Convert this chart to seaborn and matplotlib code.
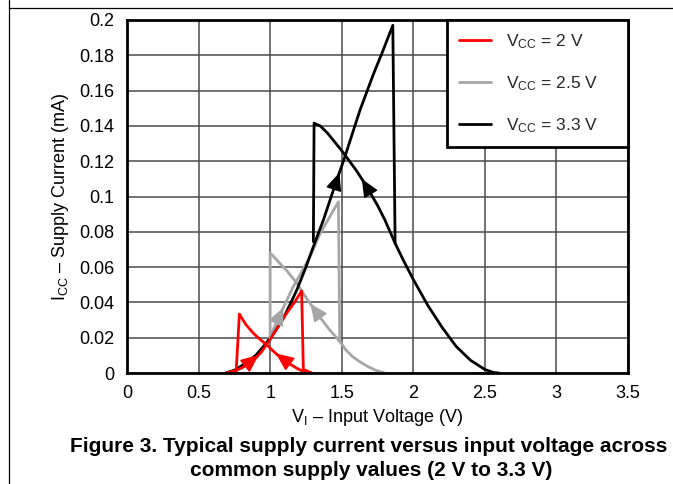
import numpy as np
import pandas as pd
import matplotlib
matplotlib.use("Agg")
import matplotlib.pyplot as plt
import seaborn as sns
from matplotlib.lines import Line2D

# ---------------- data ----------------
series_labels = [r"V$_{\mathrm{CC}}$ = 2 V", r"V$_{\mathrm{CC}}$ = 2.5 V", r"V$_{\mathrm{CC}}$ = 3.3 V"]

# Vcc = 2 V
red_fwd_v = [0.69, 0.73, 0.76, 0.80, 0.836, 0.87, 0.906, 0.94, 0.97, 1.0, 1.05, 1.116, 1.17, 1.22, 1.232, 1.29]
red_fwd_i = [0.0, 0.0007, 0.0015, 0.0028, 0.0045, 0.0065, 0.009, 0.012, 0.0155, 0.019, 0.0255, 0.034, 0.040, 0.0465, 0.002, 0.0]
red_rev_v = [1.29, 1.26, 1.22, 1.186, 1.13, 1.069, 1.02, 0.976, 0.93, 0.883, 0.83, 0.785, 0.762]
red_rev_i = [0.0, 0.0003, 0.0013, 0.0027, 0.0055, 0.009, 0.0125, 0.016, 0.019, 0.0225, 0.0275, 0.0334, 0.0]

# Vcc = 2.5 V
gray_fwd_v = [0.69, 0.75, 0.8, 0.85, 0.9, 0.976, 1.03, 1.08, 1.162, 1.232, 1.279, 1.349, 1.42, 1.477,
              1.486, 1.53, 1.58, 1.63, 1.68, 1.73, 1.77, 1.8]
gray_fwd_i = [0.0, 0.0015, 0.004, 0.0068, 0.010, 0.017, 0.026, 0.035, 0.049, 0.059, 0.066, 0.079, 0.089, 0.097,
              0.018, 0.013, 0.009, 0.0062, 0.0038, 0.0018, 0.0007, 0.0]
gray_rev_v = [1.486, 1.42, 1.325, 1.232, 1.186, 1.116, 1.069, 1.03, 1.0, 1.0]
gray_rev_i = [0.018, 0.024, 0.034, 0.045, 0.051, 0.058, 0.062, 0.0655, 0.068, 0.019]

# Vcc = 3.3 V
black_fwd_v = [0.69, 0.75, 0.8, 0.85, 0.9, 0.964, 1.03, 1.092, 1.14, 1.186, 1.25, 1.302, 1.372, 1.442, 1.52,
               1.628, 1.72, 1.79, 1.857, 1.873, 1.93, 2.0, 2.1, 2.2, 2.3, 2.4, 2.5, 2.56, 2.6]
black_fwd_i = [0.0, 0.0015, 0.004, 0.0068, 0.010, 0.016, 0.023, 0.031, 0.039, 0.047, 0.060, 0.0716, 0.0867, 0.1037, 0.122,
               0.149, 0.169, 0.183, 0.197, 0.0735, 0.064, 0.053, 0.0385, 0.026, 0.015, 0.0072, 0.002, 0.0003, 0.0]
black_rev_v = [1.873, 1.838, 1.8, 1.75, 1.7, 1.64, 1.6, 1.55, 1.5, 1.45, 1.4, 1.35, 1.32, 1.307, 1.302]
black_rev_i = [0.0735, 0.080, 0.087, 0.095, 0.102, 0.110, 0.115, 0.1205, 0.126, 0.131, 0.136, 0.140, 0.141, 0.1416, 0.0744]

# arrow tip positions (input voltage) on forward / reverse sweeps
red_arrow_v = [0.92, 1.04]
gray_arrow_v = [1.093, 1.28]
black_arrow_v = [1.484, 1.64]

x_ticks = [0, 0.5, 1, 1.5, 2, 2.5, 3, 3.5]
x_ticklabels = ["0", "0.5", "1", "1.5", "2", "2.5", "3", "3.5"]
y_ticks = [0, 0.02, 0.04, 0.06, 0.08, 0.1, 0.12, 0.14, 0.16, 0.18, 0.2]
y_ticklabels = ["0", "0.02", "0.04", "0.06", "0.08", "0.1", "0.12", "0.14", "0.16", "0.18", "0.2"]

x_label = r"V$_{\mathrm{I}}$ – Input Voltage (V)"
y_label = r"I$_{\mathrm{CC}}$ – Supply Current (mA)"
caption = ["Figure 3. Typical supply current versus input voltage across",
           "common supply values (2 V to 3.3 V)"]

colors = {series_labels[0]: "#ff0000", series_labels[1]: "#a6a6a6", series_labels[2]: "#000000"}

# ---------------- build table ----------------
branches = [
    (series_labels[0], "fwd", red_fwd_v, red_fwd_i),
    (series_labels[0], "rev", red_rev_v, red_rev_i),
    (series_labels[1], "fwd", gray_fwd_v, gray_fwd_i),
    (series_labels[1], "rev", gray_rev_v, gray_rev_i),
    (series_labels[2], "fwd", black_fwd_v, black_fwd_i),
    (series_labels[2], "rev", black_rev_v, black_rev_i),
]
rows = []
for s, b, vv, ii in branches:
    for k, (v, i) in enumerate(zip(vv, ii)):
        rows.append({"series": s, "unit": b, "V": v, "I": i, "order": k})
df = pd.DataFrame(rows)

# ---------------- style ----------------
sns.set_theme(style="white")
plt.rcParams["font.family"] = ["Liberation Sans", "DejaVu Sans"]
plt.rcParams["mathtext.fontset"] = "custom"
plt.rcParams["mathtext.rm"] = "Liberation Sans"
plt.rcParams["mathtext.it"] = "Liberation Sans:italic"
plt.rcParams["mathtext.bf"] = "Liberation Sans:bold"

fig = plt.figure(figsize=(6.73, 4.84), dpi=100)
ax = fig.add_axes([127 / 673, 1 - 373 / 484, 501 / 673, 353 / 484])

draw_order = [series_labels[1], series_labels[2], series_labels[0]]
sns.lineplot(data=df, x="V", y="I", hue="series", units="unit", estimator=None,
             sort=False, hue_order=draw_order, palette=colors, linewidth=2.0,
             legend=False, ax=ax, zorder=3)


def point_on(vv, ii, v):
    for k in range(len(vv) - 1):
        a, b = vv[k], vv[k + 1]
        if min(a, b) <= v <= max(a, b) and a != b:
            t = (v - a) / (b - a)
            return ii[k] + t * (ii[k + 1] - ii[k])
    return None


arrow_sets = [
    (series_labels[0], red_fwd_v, red_fwd_i, red_rev_v, red_rev_i, red_arrow_v),
    (series_labels[1], gray_fwd_v, gray_fwd_i, gray_rev_v, gray_rev_i, gray_arrow_v),
    (series_labels[2], black_fwd_v, black_fwd_i, black_rev_v, black_rev_i, black_arrow_v),
]
for s, fv, fi, rv, ri, av in arrow_sets:
    for (vv, ii, tip, d) in [(fv, fi, av[0], 1), (rv, ri, av[1], -1)]:
        tail = tip - d * 0.10
        ax.annotate("", xy=(tip, point_on(vv, ii, tip)), xytext=(tail, point_on(vv, ii, tail)),
                    arrowprops=dict(arrowstyle="-|>,head_length=0.75,head_width=0.33",
                                    color=colors[s], lw=1.0, shrinkA=0, shrinkB=0,
                                    mutation_scale=15),
                    zorder=4)

ax.set_xlim(0, 3.5)
ax.set_ylim(0, 0.2)
ax.set_xticks(x_ticks)
ax.set_xticklabels(x_ticklabels)
ax.set_yticks(y_ticks)
ax.set_yticklabels(y_ticklabels)
ax.tick_params(axis="both", length=0, labelsize=13, colors="black")
ax.tick_params(axis="x", pad=9)
ax.tick_params(axis="y", pad=9)
ax.grid(True, color="#4a4a4a", linewidth=1.1)
ax.set_axisbelow(True)
for sp in ax.spines.values():
    sp.set_color("black")
    sp.set_linewidth(2.0)
    sp.set_zorder(5)

ax.set_xlabel(x_label, fontsize=13, color="black", labelpad=3)
ax.set_ylabel(y_label, fontsize=13, color="black", labelpad=6)

handles = [Line2D([0], [0], color=colors[s], lw=2.0) for s in series_labels]
leg = ax.legend(handles, series_labels, loc="upper right",
                bbox_to_anchor=(320 / 501, 1 - 128 / 353, 181 / 501, 128 / 353),
                mode="expand", borderaxespad=0, fontsize=12.5, frameon=True,
                fancybox=False, edgecolor="black", framealpha=1,
                handlelength=1.85, handletextpad=0.85, labelspacing=1.35, borderpad=0.68)
leg.get_frame().set_linewidth(2.0)
leg.set_zorder(6)

fig.text(369 / 673, 1 - 447 / 484, caption[0], ha="center", va="center",
         fontsize=15.0, fontweight="bold", color="black")
fig.text(371 / 673, 1 - 471 / 484, caption[1], ha="center", va="center",
         fontsize=15.0, fontweight="bold", color="black")

fig.add_artist(Line2D([8.5 / 673, 8.5 / 673], [0, 1], transform=fig.transFigure,
                      color="black", lw=0.9))
fig.add_artist(Line2D([8.5 / 673, 1], [1 - 7.5 / 484, 1 - 7.5 / 484], transform=fig.transFigure,
                      color="black", lw=0.9))

fig.savefig("out.png", dpi=100)
